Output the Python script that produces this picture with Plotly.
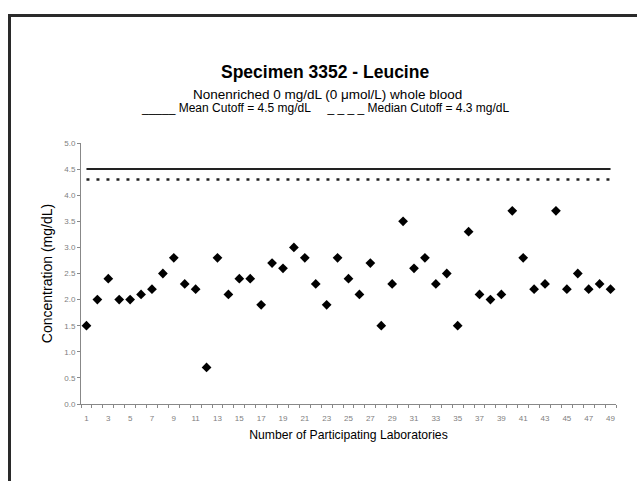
import plotly.graph_objects as go

labs = list(range(1, 50))
conc = [1.5, 2.0, 2.4, 2.0, 2.0, 2.1, 2.2, 2.5, 2.8, 2.3,
        2.2, 0.7, 2.8, 2.1, 2.4, 2.4, 1.9, 2.7, 2.6, 3.0,
        2.8, 2.3, 1.9, 2.8, 2.4, 2.1, 2.7, 1.5, 2.3, 3.5,
        2.6, 2.8, 2.3, 2.5, 1.5, 3.3, 2.1, 2.0, 2.1, 3.7,
        2.8, 2.2, 2.3, 3.7, 2.2, 2.5, 2.2, 2.3, 2.2]
mean_cutoff = 4.5
median_cutoff = 4.3
xtick_vals = list(range(1, 50, 2))
xtick_text = [str(v) for v in xtick_vals]
ytick_vals = [0, 0.5, 1, 1.5, 2, 2.5, 3, 3.5, 4, 4.5, 5]

W, H = 637, 481
L, R, T, B = 81, 21, 143, 77
pw, ph = W - L - R, H - T - B

def px(x):
    return (x - L) / pw

def py(y):
    return (H - B - y) / ph

NB = "\u00a0"
legend_line = ("_____" + NB + "Mean Cutoff = 4.5 mg/dL" + NB * 5 +
               "_" + NB + "_" + NB + "_" + NB + "_" + NB + "Median Cutoff = 4.3 mg/dL")

fig = go.Figure()
fig.add_trace(go.Scatter(x=[labs[0], labs[-1]], y=[mean_cutoff, mean_cutoff], mode="lines",
                         line=dict(color="#222222", width=2), showlegend=False, hoverinfo="skip"))
fig.add_trace(go.Scatter(x=[labs[0], labs[-1]], y=[median_cutoff, median_cutoff], mode="lines",
                         line=dict(color="#222222", width=2.5, dash="3px,7px"), showlegend=False, hoverinfo="skip"))
fig.add_trace(go.Scatter(x=labs, y=conc, mode="markers",
                         marker=dict(symbol="diamond", size=7.5, color="black"), showlegend=False))

fig.update_layout(
    width=W, height=H,
    margin=dict(l=L, r=R, t=T, b=B),
    paper_bgcolor="white", plot_bgcolor="white",
    font=dict(family="Liberation Sans, Arial, sans-serif", color="black"),
    xaxis=dict(range=[0.5, 49.5], tickmode="array", tickvals=xtick_vals, ticktext=xtick_text,
               ticks="", showgrid=False, zeroline=False, showline=True, linecolor="#888888", linewidth=1,
               tickfont=dict(size=8, color="#808080"), ticklabelstandoff=6,
               minor=dict(tick0=0.5, dtick=1, ticks="outside", ticklen=3, tickcolor="#888888", showgrid=False),
               title=dict(text="Number of Participating Laboratories", font=dict(size=12.2), standoff=8)),
    yaxis=dict(range=[0, 5], tickmode="array", tickvals=ytick_vals, tickformat=".1f",
               ticks="outside", ticklen=3, tickcolor="#888888", showgrid=False, zeroline=False,
               showline=True, linecolor="#888888", linewidth=1,
               tickfont=dict(size=8, color="#808080"),
               title=dict(text="Concentration (mg/dL)", font=dict(size=14), standoff=8)),
    annotations=[
        dict(text="<b>Specimen 3352 - Leucine</b>", xref="paper", yref="paper", x=px(325), y=py(72),
             showarrow=False, font=dict(size=17.5), xanchor="center", yanchor="middle"),
        dict(text="Nonenriched 0 mg/dL (0 \u03bcmol/L) whole blood", xref="paper", yref="paper",
             x=px(327), y=py(94), showarrow=False, font=dict(size=13.5), xanchor="center", yanchor="middle"),
        dict(text=legend_line, xref="paper", yref="paper",
             x=px(325), y=py(108), showarrow=False, font=dict(size=12), xanchor="center", yanchor="middle"),
    ],
    shapes=[
        dict(type="line", xref="paper", yref="paper", x0=px(8), x1=px(645), y0=py(15.5), y1=py(15.5),
             line=dict(color="#2a2a2a", width=3)),
        dict(type="line", xref="paper", yref="paper", x0=px(9.5), x1=px(9.5), y0=py(14), y1=py(490),
             line=dict(color="#2a2a2a", width=3)),
    ],
)

fig.write_html("out.html")
